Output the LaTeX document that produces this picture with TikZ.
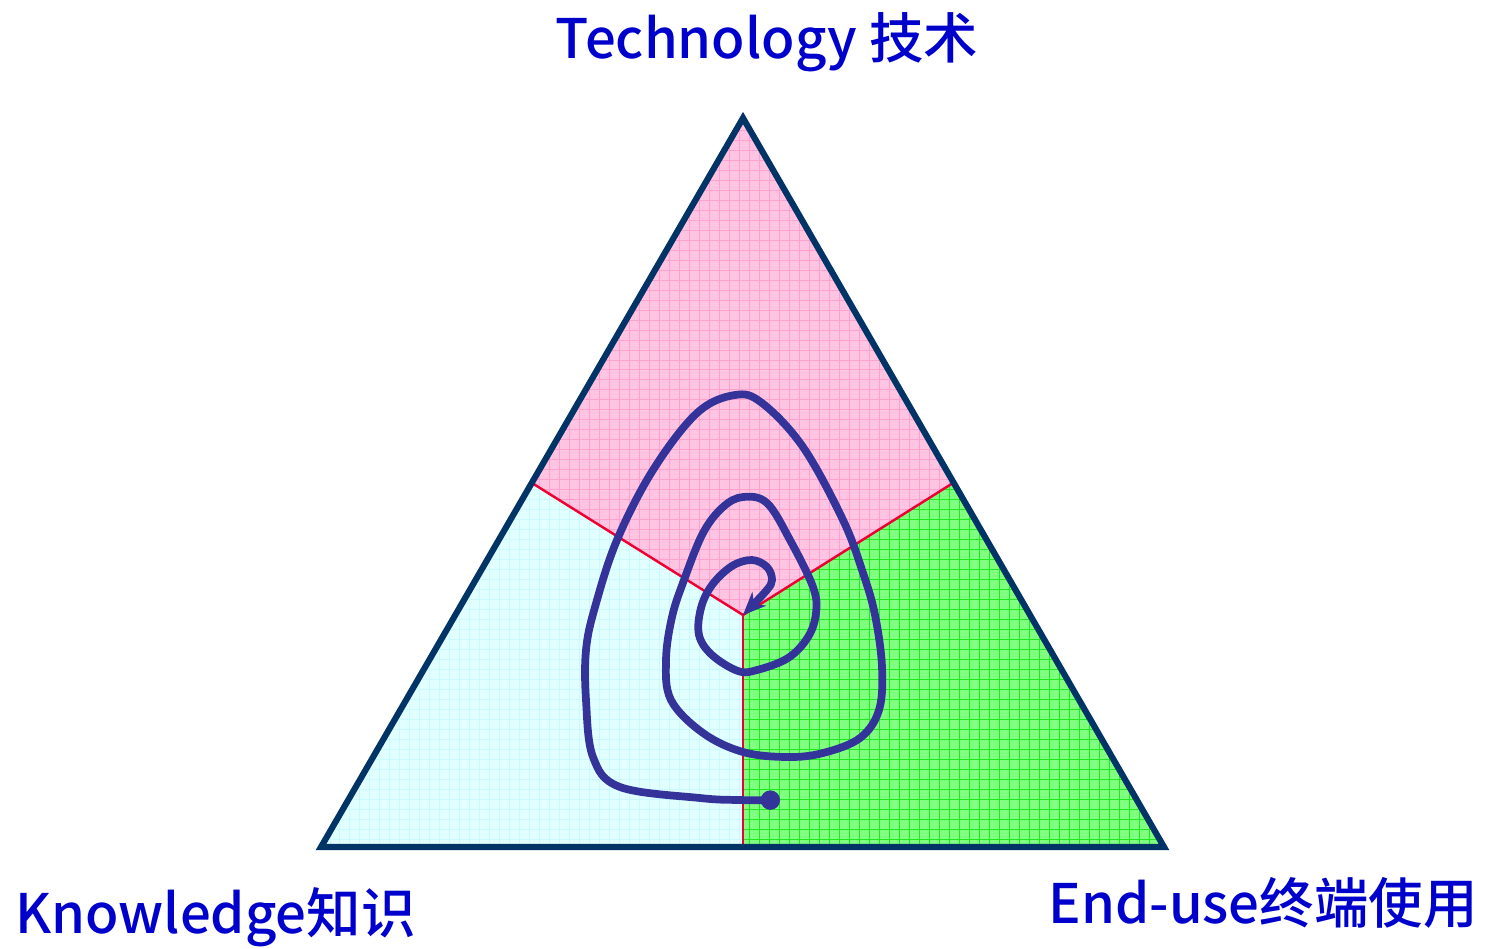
\documentclass[tikz,border=0pt]{standalone}
\usepackage{fontspec}
\setmainfont{Noto Sans CJK SC}[BoldFont={Noto Sans CJK SC Medium}]
\usepackage{tikz}
\usetikzlibrary{arrows.meta,positioning}

\definecolor{labelblue}{RGB}{0,0,204}
\definecolor{edgenavy}{RGB}{0,51,102}
\definecolor{splitred}{RGB}{238,0,51}
\definecolor{spiralblue}{RGB}{51,51,153}
\definecolor{techfill}{RGB}{255,196,226}
\definecolor{techgrid}{RGB}{255,160,205}
\definecolor{knowfill}{RGB}{226,255,255}
\definecolor{knowgrid}{RGB}{200,250,255}
\definecolor{usefill}{RGB}{128,255,128}
\definecolor{usegrid}{RGB}{30,235,30}

\tikzset{
  corner label/.style={font=\bfseries\fontsize{31}{36}\selectfont, text=labelblue, inner sep=0pt},
  split line/.style={splitred, line width=1.4pt},
  outline/.style={edgenavy, line width=3.5pt, line join=miter},
  spiral/.style={spiralblue, line width=4.4pt, line cap=round, line join=round}
}

\begin{document}
\begin{tikzpicture}[x=0.02cm,y=-0.02cm]
    \useasboundingbox (0,0) rectangle (1486,948);
    % corners, side midpoints and centre
    \coordinate (top) at (743,118);
    \coordinate (bl) at (321,847);
    \coordinate (br) at (1164,847);
    \coordinate (ml) at (532,483);
    \coordinate (mr) at (953,483);
    \coordinate (mb) at (743,847);
    \coordinate (ctr) at (743,615);

    % three regions, each with its own grid
    \foreach \corners/\fc/\gc in {(top) -- (mr) -- (ctr) -- (ml)/techfill/techgrid,
                                  (ml) -- (ctr) -- (mb) -- (bl)/knowfill/knowgrid,
                                  (ctr) -- (mr) -- (br) -- (mb)/usefill/usegrid} {
      \begin{scope}
        \clip \corners -- cycle;
        \fill[\fc] \corners -- cycle;
        \draw[\gc, line width=0.5pt, step=2mm] (303,107) grid (1180,860);
      \end{scope}
    }

    \draw[split line] (ml) -- (ctr) -- (mr);
    \draw[split line] (ctr) -- (mb);
    \draw[outline] (top) -- (br) -- (bl) -- cycle;

    % the spiral
    \draw[spiral, {Circle[length=11pt]}-{Stealth[length=13pt,width=11pt]}]
      plot[smooth, tension=0.6] coordinates {
        (780,800) (740,800) (700,798) (620,787) (593,757) (586,700) (586,650)
        (595,607) (617,540) (653,470) (697,413) (735,395) (762,403) (803,447)
        (843,520) (863,573) (875,615) (882,667) (879,710) (860,738) (823,753)
        (787,757) (743,752) (703,733) (671,700) (666,660) (672,617) (684,580)
        (703,533) (723,507) (743,497) (767,503) (790,540) (813,587) (816,613)
        (808,637) (788,658) (757,670) (738,671) (712,655) (699,635) (701,608)
        (712,585) (732,566) (752,560) (767,567) (772,580) (766,591) (743,615)};

    % corner labels
    \node[corner label, anchor=base] (tech) at (767,58) {Technology 技术};
    \node[corner label, anchor=base west] (know) at (15,933) {Knowledge知识};
    \node[corner label, anchor=base east] (enduse) at (1478,923) {End-use终端使用};
\end{tikzpicture}
\end{document}
